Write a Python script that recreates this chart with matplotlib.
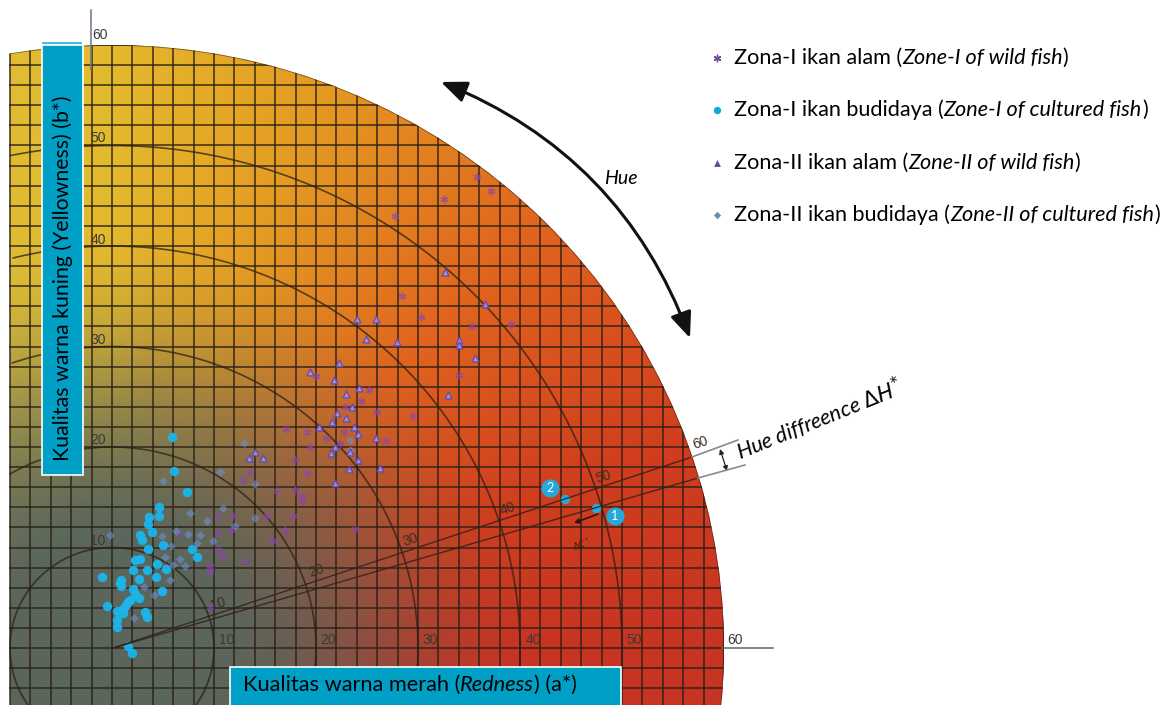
#!/usr/bin/python3

import matplotlib
matplotlib.use('Agg')
import matplotlib.pyplot as plt
import numpy as np
from matplotlib.patches import Circle, FancyArrowPatch, Rectangle

# colour values, a* (redness) and b* (yellowness)
zone1_wild_a = [35.8, 37.2, 32.5, 27.7, 28.4, 30.3, 35.3, 39.1, 34.0, 20.0, 25.2, 24.4, 22.8, 26.0, 29.5,
	17.1, 19.1, 22.7, 21.0, 26.9, 22.4, 19.4, 17.9, 19.1, 13.5, 12.8, 16.2, 17.9, 18.6, 18.6, 15.2, 17.7,
	17.0, 15.8, 23.8, 10.4, 11.9, 10.4, 11.7, 10.4, 10.9, 13.0, 9.6, 9.6, 9.6, 6.5]
zone1_wild_b = [46.9, 45.5, 44.7, 43.0, 35.0, 32.9, 32.0, 32.2, 27.2, 27.1, 25.7, 24.6, 24.0, 23.5, 23.1,
	21.8, 21.5, 21.5, 20.9, 20.6, 20.4, 20.0, 18.7, 17.4, 17.5, 16.7, 15.6, 15.7, 15.1, 14.6, 13.1, 13.1,
	11.7, 10.6, 11.8, 13.1, 13.1, 11.4, 11.7, 9.8, 9.1, 8.7, 8.2, 7.6, 4.1, 11.4]

zone1_cultured_a = [5.85, 6.1, 7.4, 4.6, 4.6, 3.6, 3.5, 3.9, 2.7, 2.9, 3.5, 5.0, 7.8, 8.3, 2.3, 2.7, 2.1,
	4.4, 5.3, 3.4, 2.6, 4.3, 0.9, 0.8, -1.0, 4.9, 2.1, 2.3, 1.8, 1.4, -0.5, 0.5, 1.1, 3.2, 3.4, 0.5, 0.5,
	1.6, 2.0, 1.6, 2.6, 0.9, 1.1]
zone1_cultured_b = [21.0, 17.6, 15.5, 14.0, 13.1, 13.0, 12.3, 11.5, 11.2, 10.7, 9.9, 10.2, 9.9, 9.1, 8.8,
	8.9, 7.8, 8.4, 7.9, 7.8, 6.9, 7.1, 6.8, 6.5, 7.1, 5.7, 5.9, 5.4, 4.8, 4.3, 4.2, 3.7, 3.9, 3.6, 3.1, 2.8,
	2.1, 0.2, -0.5, 4.6, 5.0, 6.2, 3.5]

zone2_wild_a = [32.6, 36.6, 24.0, 25.9, 24.9, 27.9, 34.0, 34.0, 35.6, 22.3, 19.4, 21.8, 24.2, 22.9, 32.9,
	23.5, 22.1, 22.9, 21.6, 23.7, 20.3, 24.1, 25.9, 21.9, 13.4, 14.0, 14.8, 21.9, 23.2, 24.1, 26.3, 21.5, 23.3]
zone2_wild_b = [37.4, 34.2, 32.7, 32.7, 30.7, 30.4, 30.6, 30.1, 28.9, 28.4, 27.5, 26.7, 25.9, 25.3, 25.2,
	24.0, 23.4, 22.9, 22.5, 22.0, 22.0, 21.3, 20.9, 20.0, 18.9, 19.5, 18.9, 16.4, 17.8, 18.7, 17.9, 19.4, 19.5]

zone2_cultured_a = [4.9, 6.3, 7.5, 8.6, 7.6, 10.9, 9.3, 12.1, 14.0, 14.0, 12.9, 10.6, 5.0, 5.8, 5.2, 6.7,
	6.0, 7.2, 5.7, 3.1, 4.1, 2.2, -0.2, 23.3, 23.3, 8.3, 9.9]
zone2_cultured_b = [11.1, 11.6, 11.3, 11.2, 13.4, 13.9, 12.6, 12.1, 12.9, 16.3, 20.4, 17.5, 16.6, 10.1, 9.1,
	8.9, 8.3, 8.2, 6.8, 6.1, 5.3, 3.0, 11.2, 20.7, 19.7, 10.4, 10.6]

# the two example colours 1 and 2 and their numbered tags
sample_a = [47.5, 44.4]
sample_b = [13.9, 14.8]
sample_tag_a = [49.3, 42.9]
sample_tag_b = [13.1, 15.9]
sample_tags = ['1', '2']

rings = [10, 20, 30, 40, 50, 60]
hue_angles = [0, 20, 45, 70, 90, 110]
hue_colors = [(200, 52, 35), (208, 62, 30), (225, 100, 30), (228, 155, 35), (228, 185, 45), (222, 190, 55)]
gray = (90, 102, 92)

legend_rows = [
	('Zona-I ikan alam (', 'Zone-I of wild fish', ')'),
	('Zona-I ikan budidaya (', 'Zone-I of cultured fish', ')'),
	('Zona-II ikan alam (', 'Zone-II of wild fish', ')'),
	('Zona-II ikan budidaya (', 'Zone-II of cultured fish', ')'),
]

W, H = 1168, 705
X0, Y0 = 112, 648      # pixel of a*=0, b*=0
SX, SY = 10.2, 10.05   # pixels per unit
FONT = 'Lato'

fig = plt.figure(figsize=(W / 100, H / 100), dpi=100, facecolor='white')
ax = fig.add_axes([0, 0, 1, 1])
ax.set_xlim(-X0 / SX, (W - X0) / SX)
ax.set_ylim((Y0 - H) / SY, Y0 / SY)
ax.axis('off')

# overlay in pixel coordinates for boxes and labels
ov = fig.add_axes([0, 0, 1, 1], zorder=5)
ov.set_xlim(0, W)
ov.set_ylim(H, 0)
ov.axis('off')
ov.patch.set_alpha(0)

left, bottom = -10, (Y0 - H) / SY

# colour space background
aa, bb = np.meshgrid(np.linspace(left, 61, 500), np.linspace(61, bottom, 500))
angle = np.degrees(np.arctan2(bb, aa))
angle = np.where(angle < 0, 0, angle)
chroma = np.hypot(aa, bb) / 60
w = np.clip((chroma - 0.15) / 0.55, 0, 1)
w = w * w * (3 - 2 * w)
img = np.zeros(aa.shape + (3,))
for i in range(3):
	full = np.interp(angle, hue_angles, [c[i] for c in hue_colors])
	img[..., i] = (gray[i] + (full - gray[i]) * w) / 255
clip = Circle((0, 0), 60, transform=ax.transData)
bg = ax.imshow(img, extent=(left, 61, bottom, 61), aspect='auto', zorder=1, interpolation='bilinear')
bg.set_clip_path(clip)
ax.set_xlim(-X0 / SX, (W - X0) / SX)
ax.set_ylim((Y0 - H) / SY, Y0 / SY)

# grid and chroma rings
for a in range(left, 61, 2):
	ax.plot([a, a], [bottom, 61], color='#2a2015', lw=1.35, alpha=0.75, zorder=2, clip_path=clip)
for b in range(-4, 61, 2):
	ax.plot([left, 61], [b, b], color='#2a2015', lw=1.35, alpha=0.75, zorder=2, clip_path=clip)
t = np.radians(np.linspace(0, 360, 721))
for r in rings:
	keep = r * np.cos(t) >= left
	ax.plot(np.where(keep, r * np.cos(t), np.nan), r * np.sin(t), color='#2a2015', lw=1.2, alpha=0.75 if r < 60 else 0.6,
		zorder=2.5, clip_path=clip)

# axes stubs outside the circle
ov.plot([91, 91], [10, 70], color='#66788a', lw=1.1)
ov.plot([722, 773], [648, 648], color='#666666', lw=1.1)

# hue lines
ov.plot([113, 692], [648, 457], color='#33201a', lw=1.0, alpha=0.85)
ov.plot([113, 698], [648, 478], color='#33201a', lw=1.0, alpha=0.85)
ov.plot([692, 738], [457, 440], color='#8a8a8a', lw=1.2)
ov.plot([698, 745], [478, 465], color='#8a8a8a', lw=1.2)
ov.add_patch(FancyArrowPatch((720, 449), (727, 471), arrowstyle='<|-|>', mutation_scale=7, color='#222222', lw=0.9,
	shrinkA=0, shrinkB=0))
ov.add_patch(FancyArrowPatch((598, 514), (574, 523), arrowstyle='-|>', mutation_scale=7, color='#2a1512', lw=1.2,
	shrinkA=0, shrinkB=0))
ov.text(582, 544, r'$\Delta C^*$', fontsize=6, color='#3a1a15', rotation=18, ha='center', va='center')

# points
ax.scatter(zone1_wild_a, zone1_wild_b, marker=(6, 2), s=26, color='#8a45b0', lw=1.0, alpha=0.7, zorder=3)
ax.scatter(zone2_cultured_a, zone2_cultured_b, marker='D', s=20, color='#6f8fd0', lw=0, alpha=0.6, zorder=3)
ax.scatter(zone2_wild_a, zone2_wild_b, marker='^', s=24, facecolor='#a99be0', edgecolor='#5a45c0', lw=1.0, alpha=0.85, zorder=3.2)
ax.scatter(zone1_cultured_a, zone1_cultured_b, marker='o', s=46, color='#1cb5ec', lw=0, alpha=0.95, zorder=3.5)
ax.scatter(sample_a, sample_b, marker='o', s=46, color='#25a9dd', lw=0, zorder=3.5)
ax.scatter(sample_tag_a, sample_tag_b, marker='o', s=170, color='#25a9dd', lw=0, zorder=3.5)
for a, b, tag in zip(sample_tag_a, sample_tag_b, sample_tags):
	ax.text(a, b, tag, color='white', fontsize=9, ha='center', va='center', zorder=3.6, family=FONT)

# ring numbers
num = dict(fontsize=10, ha='center', va='center', family='Liberation Sans')
for r, x in zip(rings, [227, 328, 430, 533, 634, 735]):
	ov.text(x, 640, str(r), color='#3a3a35', **num)
for r, y in zip(rings, [541, 440, 340, 240, 138, 35]):
	ov.text(100 if r == 60 else 98, y, str(r), color='#3a3a35', **num)
for r, x, y in zip(rings, [218, 316, 411, 508, 604, 700], [604, 571, 540, 509, 477, 443]):
	ov.text(x, y, str(r), color='#3a3025', rotation=18, **num)

# big hue arrow
ov.add_patch(FancyArrowPatch((441, 82), (690, 338), connectionstyle='arc3,rad=-0.22', arrowstyle='<|-|>,head_length=0.6,head_width=0.25',
	mutation_scale=26, color='#111111', lw=2.2, shrinkA=0, shrinkB=0))
ov.text(621, 178, 'Hue', fontsize=14, style='italic', ha='center', va='center', family=FONT)
ov.text(742, 465, 'Hue diffreence $\\Delta H^{*}$', fontsize=15.5, style='italic', rotation=22, rotation_mode='anchor',
	ha='left', va='bottom', family=FONT)

# blue axis title boxes
ov.plot([43, 81], [43, 43], color='#20b0d8', lw=1.2)
ov.add_patch(Rectangle((42, 45), 41, 430, facecolor='#009fc6', edgecolor='white', lw=1.2))
ov.text(63, 278, 'Kualitas warna kuning (Yellowness) (b*)', rotation=90, fontsize=15.3, ha='center', va='center', family=FONT)
ov.add_patch(Rectangle((230, 667), 391, 45, facecolor='#009fc6', edgecolor='white', lw=1.2))

renderer = fig.canvas.get_renderer()


def row_text(x, y, parts, size):
	''' Writes roman, italic, roman pieces one after the other'''
	for part, style in zip(parts, ['normal', 'italic', 'normal']):
		txt = ov.text(x, y, part, fontsize=size, style=style, ha='left', va='center', family=FONT)
		x += txt.get_window_extent(renderer).width


row_text(243, 685, ('Kualitas warna merah (', 'Redness', ') (a*)'), 15.7)

# legend
legend_y = [58, 110, 163, 215]
ov.scatter([717], [legend_y[0]], marker=(6, 2), s=22, color='#6a4a98', lw=1.0)
ov.scatter([717], [legend_y[1]], marker='o', s=28, color='#10a8d8', lw=0)
ov.scatter([717], [legend_y[2]], marker='^', s=24, color='#5a4aa8', lw=0)
ov.scatter([717], [legend_y[3]], marker='D', s=14, color='#6090b8', lw=0)
for y, parts in zip(legend_y, legend_rows):
	row_text(734, y, parts, 15.6)

ov.set_xlim(0, W)
ov.set_ylim(H, 0)
fig.savefig('out.png', dpi=100, facecolor='white')
